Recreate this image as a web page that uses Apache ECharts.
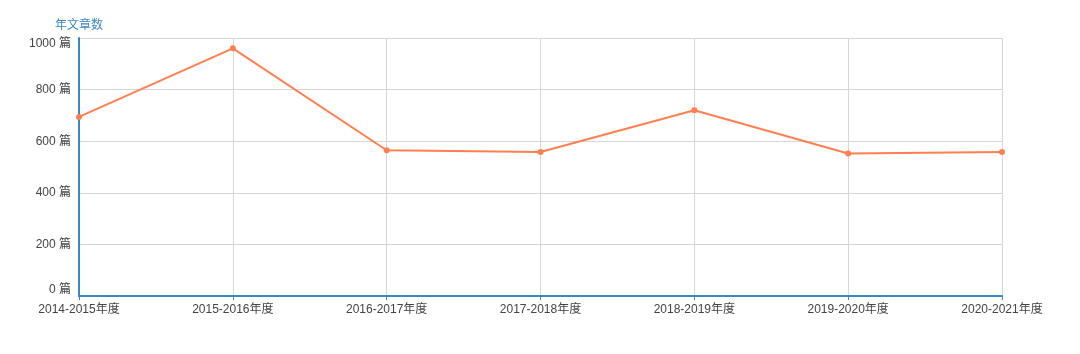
<!DOCTYPE html>
<html>
<head>
<meta charset="utf-8">
<script src="https://cdn.jsdelivr.net/npm/echarts@6/dist/echarts.min.js"></script>
<style>html,body{margin:0;padding:0;background:#fff;}#c{width:1080px;height:354px;}</style>
</head>
<body>
<div id="c"></div>
<script>
const categories = ['2014-2015年度','2015-2016年度','2016-2017年度','2017-2018年度','2018-2019年度','2019-2020年度','2020-2021年度'];
const articleCounts = [694, 960, 565, 558, 720, 552, 558];
const yAxisName = '年文章数';
const font = '"Liberation Sans", "Noto Sans CJK SC", sans-serif';

const chart = echarts.init(document.getElementById('c'));
chart.setOption({
  animation: false,
  grid: { left: 79, right: 78, top: 38, bottom: 58 },
  xAxis: {
    type: 'category',
    data: categories,
    boundaryGap: false,
    axisLine: { lineStyle: { color: '#3d86c6', width: 2 } },
    axisTick: { show: true, alignWithLabel: true, length: 4, lineStyle: { color: '#3d86c6' } },
    axisLabel: { color: '#444', fontSize: 12, margin: 8, fontFamily: font },
    splitLine: { show: true, lineStyle: { color: '#d6d6d6' } }
  },
  yAxis: {
    type: 'value',
    min: 0, max: 1000, interval: 200,
    name: yAxisName,
    nameGap: 6,
    nameTextStyle: { color: '#3d86c6', fontSize: 12, align: 'center', fontFamily: font },
    axisLine: { show: true, lineStyle: { color: '#3d86c6', width: 2 } },
    axisTick: { show: false },
    axisLabel: { color: '#444', fontSize: 12, margin: 8, formatter: function (v) { return v + ' 篇'; }, verticalAlignMinLabel: 'bottom', verticalAlignMaxLabel: 'top', fontFamily: font },
    splitLine: { show: true, lineStyle: { color: '#d6d6d6' } }
  },
  series: [{
    type: 'line',
    data: articleCounts,
    symbol: 'circle',
    symbolSize: 6,
    lineStyle: { color: '#ff7f50', width: 2 },
    itemStyle: { color: '#ff7f50' }
  }]
});
</script>
</body>
</html>
